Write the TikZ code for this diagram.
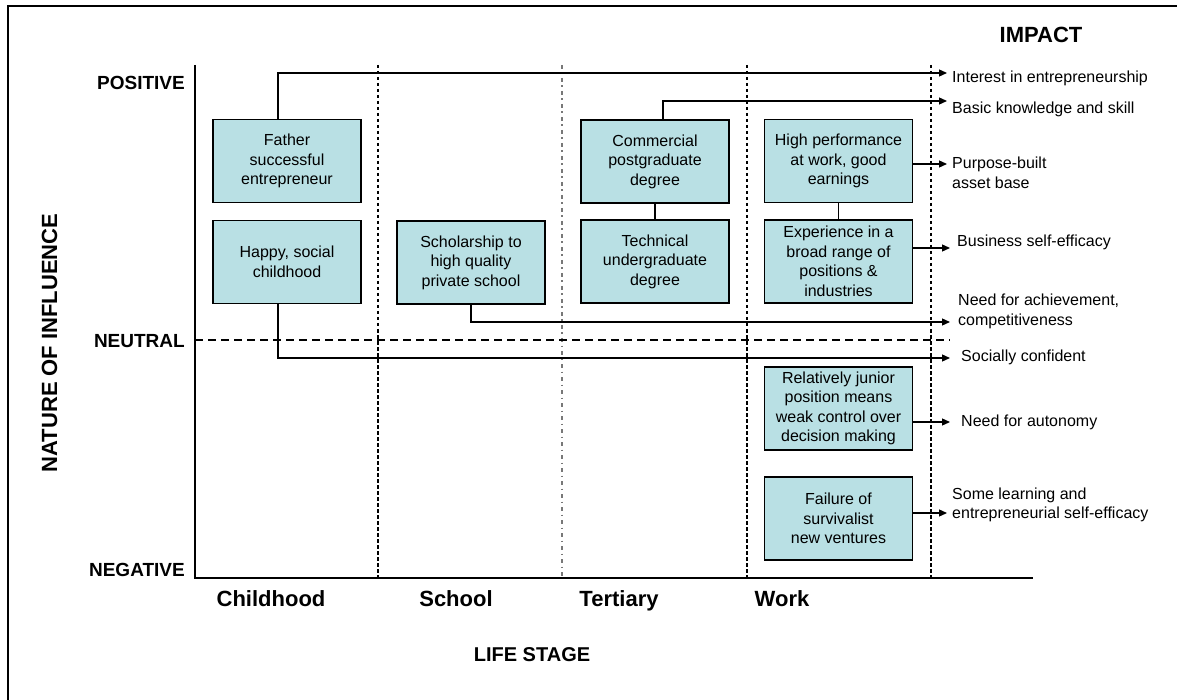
\documentclass[tikz,border=0pt]{standalone}
\usepackage{fontspec}
\setmainfont{Liberation Sans}
\usetikzlibrary{arrows.meta}
\definecolor{boxfill}{RGB}{185,224,228}
\definecolor{stagegrey}{RGB}{120,120,120}
\newcommand\twoline[2]{\vtop{\hbox{#1}\hbox{#2}}}
\begin{document}
\begin{tikzpicture}[x=1pt,y=-1pt,
  infobox/.style={draw=black,line width=1.3pt,fill=boxfill,minimum width=148pt,minimum height=83pt,
    inner sep=0pt,align=center,font=\fontsize{16}{19.5}\selectfont},
  impact/.style={anchor=base west,inner sep=0pt,font=\fontsize{16}{19.5}\selectfont},
  levellabel/.style={anchor=base east,inner sep=0pt,font=\fontsize{19}{22}\selectfont\bfseries},
  stagelabel/.style={anchor=base,inner sep=0pt,font=\fontsize{22}{26}\selectfont\bfseries},
  axistitle/.style={anchor=base,inner sep=0pt,font=\fontsize{20}{24}\selectfont\bfseries},
  link/.style={line width=1.3pt},
  arr/.style={line width=1.3pt,-{Triangle[length=8pt,width=7pt]}},
  stageline/.style={line width=1.1pt,dash pattern=on 3.5pt off 2.5pt},
  midline/.style={line width=1.1pt,stagegrey,dash pattern=on 4pt off 3.5pt on 1.5pt off 4pt},
  neutralline/.style={line width=1.1pt,dash pattern=on 8pt off 5pt}]
\useasboundingbox (0,0) rectangle (1177,700);

% outer frame
\draw[line width=1.3pt] (8,710) -- (8,6) -- (1190,6);

% axes
\coordinate (ytop) at (195,65);
\coordinate (origin) at (195,578);
\coordinate (xend) at (1033,578);
\draw[line width=1.3pt] (ytop) -- (origin) -- (xend);

% stage separators
\draw[stageline] (378,65) -- (378,578);
\draw[midline] (562,65) -- (562,578);
\draw[stageline] (747,65) -- (747,578);
\draw[stageline] (931,65) -- (931,578);
\draw[neutralline] (195,340) -- (950,340);

% level labels
\node[levellabel] (pos) at (185,90) {POSITIVE};
\node[levellabel] (neu) at (185,347) {NEUTRAL};
\node[levellabel] (neg) at (185,576) {NEGATIVE};
\node[axistitle,rotate=90,font=\fontsize{22}{26}\selectfont\bfseries] (noi) at (57,343) {NATURE OF INFLUENCE};

% stage labels
\node[stagelabel] (sc) at (271,606) {Childhood};
\node[stagelabel] (ss) at (456,606) {School};
\node[stagelabel] (st) at (619,606) {Tertiary};
\node[stagelabel] (sw) at (782,606) {Work};
\node[axistitle] (life) at (532,661) {LIFE STAGE};
\node[stagelabel] (impt) at (1041,43) {IMPACT};

% influence boxes
\node[infobox] (father) at (287,161) {Father\\successful\\entrepreneur};
\node[infobox] (happy) at (287,262) {Happy, social\\childhood};
\node[infobox] (schol) at (471,262.5) {Scholarship to\\high quality\\private school};
\node[infobox] (comm) at (655,161.5) {Commercial\\postgraduate\\degree};
\node[infobox] (tech) at (655,261.5) {Technical\\undergraduate\\degree};
\node[infobox] (high) at (838.5,161) {High performance\\at work, good\\earnings};
\node[infobox] (exper) at (838.5,261.5) {Experience in a\\broad range of\\positions \&\\industries};
\node[infobox] (junior) at (838.5,408.5) {Relatively junior\\position means\\weak control over\\decision making};
\node[infobox] (fail) at (838.5,518.5) {Failure of\\survivalist\\new ventures};

% impact texts
\node[impact] (i1) at (952,83) {Interest in entrepreneurship};
\node[impact] (i2) at (952,114) {Basic knowledge and skill};
\node[impact] (i3) at (952,169) {\twoline{Purpose-built}{asset base}};
\node[impact] (i4) at (957,247) {Business self-efficacy};
\node[impact] (i5) at (958,306) {\twoline{Need for achievement,}{competitiveness}};
\node[impact] (i6) at (961,361) {Socially confident};
\node[impact] (i7) at (961,426) {Need for autonomy};
\node[impact] (i8) at (952,499) {\twoline{Some learning and}{entrepreneurial self-efficacy}};

% arrow tips
\coordinate (t1) at (947,73);
\coordinate (t2) at (947,101);
\coordinate (t3) at (947,164);
\coordinate (t4) at (950,248);
\coordinate (t5) at (950,322);
\coordinate (t6) at (950,358);
\coordinate (t7) at (950,422);
\coordinate (t8) at (947,513);

% connectors
\draw[link] (comm) -- (tech);
\draw[link] (high) -- (exper);
\draw[arr] ([xshift=-9pt]father.north) |- (t1);
\draw[arr] ([xshift=8pt]comm.north) |- (t2);
\draw[arr] (high.east |- t3) -- (t3);
\draw[arr] (exper.east |- t4) -- (t4);
\draw[arr] (schol.south) |- (t5);
\draw[arr] ([xshift=-9pt]happy.south) |- (t6);
\draw[arr] (junior.east |- t7) -- (t7);
\draw[arr] (fail.east |- t8) -- (t8);
\end{tikzpicture}
\end{document}
